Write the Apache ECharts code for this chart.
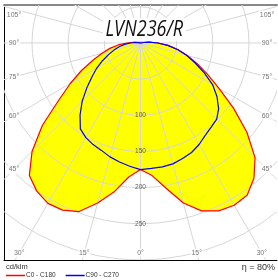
<!DOCTYPE html>
<html>
<head>
<meta charset="utf-8">
<script src="https://cdn.jsdelivr.net/npm/echarts@6/dist/echarts.min.js"></script>
<style>
  html,body{margin:0;padding:0;background:#fff;}
  #chart{width:278px;height:280px;}
</style>
</head>
<body>
<div id="chart"></div>
<script>
// gamma angles measured from nadir, intensities in cd/klm
var gammas = [0,5,10,15,20,25,30,35,40,45,50,55,60,65,70,75,80,85,90,
              95,100,105,110,115,120,125,130,135,140,145,150,155,160,165,170,175,180];
var c0   = [175,184,204,229,247,256,259,257,244,224,192,157,125,102,83,67,52,38,24,12,4,0,0,0,0,0,0,0,0,0,0,0,0,0,0,0,0];
var c180 = [175,186,209,229,248,255,256,250,239,212,177,138,112,90,70,55,43,31,19,10,4,0,0,0,0,0,0,0,0,0,0,0,0,0,0,0,0];
var c90  = [175,174,174,173,170,167,162,156,152,149,141,129,115,97,80,66,52,38,24,12,4,0,0,0,0,0,0,0,0,0,0,0,0,0,0,0,0];
var c270 = [175,171,167,163,158,155,151,145,130,114,97,82,70,58,47,38,30,22,14,8,3,0,0,0,0,0,0,0,0,0,0,0,0,0,0,0,0];

var radialTicks = [50,100,150,200,250,300];
var radialLabels = [100,150,200,250];
var angleTicks = [0,15,30,45,60,75,90,105,120,135,150,165,180];
var angleLabels = [0,15,30,45,60,75,90,105];

var xMin = -188.7, xMax = 188.7, yMin = -300, yMax = 52.5;
var gridColor = '#d6d6d6';

// polar (gamma, I) -> cartesian, side -1 = left half, 1 = right half
function toXY(g, I, side) {
  var r = g * Math.PI / 180;
  return [side * I * Math.sin(r), -I * Math.cos(r)];
}
function curve(left, right) {
  var pts = [];
  for (var i = gammas.length - 1; i >= 0; i--) pts.push(toXY(gammas[i], left[i], -1));
  for (var j = 1; j < gammas.length; j++) pts.push(toXY(gammas[j], right[j], 1));
  return pts;
}
var redPts = curve(c180, c0);
var bluePts = curve(c270, c90);

// angle label positions, a little inside the frame
var inset = 13.8, insetB = 9.7;
var angleLabelData = [];
angleLabels.forEach(function (a) {
  var r = a * Math.PI / 180;
  [-1, 1].forEach(function (side) {
    if (a === 0 && side === 1) return;
    var x, y;
    if (Math.atan(xMax / -yMin) > r) {
      y = yMin + insetB;
      x = side * -y * Math.tan(r);
    } else {
      x = side * (xMax - inset);
      y = -(xMax - inset) * Math.cos(r) / Math.sin(r);
      if (y > yMax - inset) y = yMax - inset;
    }
    angleLabelData.push({ value: [x, y], name: a + '°' });
  });
});
var radialLabelData = radialLabels.map(function (v) {
  return { value: [0, -v], name: String(v) };
});

var myChart = echarts.init(document.getElementById('chart'));
myChart.setOption({
  animation: false,
  graphic: [{
    type: 'text', x: 103, y: 18, scaleX: 0.82, z: 3,
    style: {
      text: 'LVN236/R', fill: '#111', backgroundColor: '#fff', padding: [1, 3, 0, 3],
      font: 'italic 22px "Open Sans", sans-serif'
    }
  }],
  title: [{
    text: 'cd/klm', left: 6, top: 263, padding: 0,
    textStyle: { fontFamily: 'Liberation Sans', fontWeight: 'normal', fontSize: 7.5, color: '#333' }
  }, {
    text: 'η = 80%', right: 3, top: 263, padding: 0,
    textStyle: { fontFamily: 'Liberation Sans', fontWeight: 'normal', fontSize: 9, color: '#333' }
  }],
  legend: {
    left: 6, top: 272, padding: 0, itemGap: 10, itemWidth: 19, itemHeight: 1.5, icon: 'rect',
    textStyle: { fontFamily: 'Liberation Sans', fontSize: 6.5, color: '#333', padding: [0, 0, 0, -4] },
    data: ['C0 - C180', 'C90 - C270']
  },
  grid: { left: 4, right: 1, top: 5, bottom: 20 },
  xAxis: [{
    type: 'value', min: xMin, max: xMax, position: 'bottom',
    axisLine: { onZero: false, lineStyle: { color: '#000', width: 1 } },
    axisTick: { show: false }, axisLabel: { show: false }, splitLine: { show: false }
  }, {
    type: 'value', min: xMin, max: xMax, position: 'top',
    axisLine: { onZero: false, lineStyle: { color: '#888', width: 2 } },
    axisTick: { show: false }, axisLabel: { show: false }, splitLine: { show: false }
  }],
  yAxis: {
    type: 'value', min: yMin, max: yMax,
    axisLine: { show: true, onZero: false, lineStyle: { color: '#000', width: 1 } },
    axisTick: { show: false }, axisLabel: { show: false }, splitLine: { show: false }
  },
  series: [{
    type: 'custom', z: 1, silent: true, data: [[0, 0]],
    renderItem: function (params, api) {
      return { type: 'polygon', shape: { points: redPts.map(function (p) { return api.coord(p); }) },
               style: { fill: '#ffff00' } };
    }
  }, {
    type: 'custom', z: 2, silent: true, data: [[0, 0]],
    renderItem: function (params, api) {
      var c = api.coord([0, 0]);
      var kids = [];
      radialTicks.forEach(function (v) {
        kids.push({ type: 'circle', shape: { cx: c[0], cy: c[1], r: api.size([v, 0])[0] },
                    style: { fill: 'none', stroke: gridColor, lineWidth: 1 } });
      });
      angleTicks.forEach(function (a) {
        [-1, 1].forEach(function (side) {
          var p = api.coord(toXY(a, 420, side));
          kids.push({ type: 'line', shape: { x1: c[0], y1: c[1], x2: p[0], y2: p[1] },
                      style: { stroke: gridColor, lineWidth: 1 } });
        });
      });
      var cs = params.coordSys;
      return { type: 'group', children: kids,
               clipPath: { type: 'rect', shape: { x: cs.x, y: cs.y, width: cs.width, height: cs.height } } };
    }
  }, {
    name: 'C0 - C180', type: 'line', z: 4, data: redPts, symbol: 'none',
    color: '#ff0000', lineStyle: { color: '#ff0000', width: 1.2 }
  }, {
    name: 'C90 - C270', type: 'line', z: 4, data: bluePts, symbol: 'none',
    color: '#0000ff', lineStyle: { color: '#0000ff', width: 1.2 }
  }, {
    type: 'scatter', z: 5, symbolSize: 0, silent: true, data: radialLabelData,
    label: { show: true, formatter: '{b}', position: 'inside',
             fontFamily: 'Liberation Sans', fontSize: 6.5, color: '#333' }
  }, {
    type: 'scatter', z: 5, symbolSize: 0, silent: true, data: angleLabelData,
    label: { show: true, formatter: '{b}', position: 'inside', backgroundColor: '#fff', padding: [1, 1],
             fontFamily: 'Liberation Sans', fontSize: 7, color: '#555' }
  }]
});
</script>
</body>
</html>
